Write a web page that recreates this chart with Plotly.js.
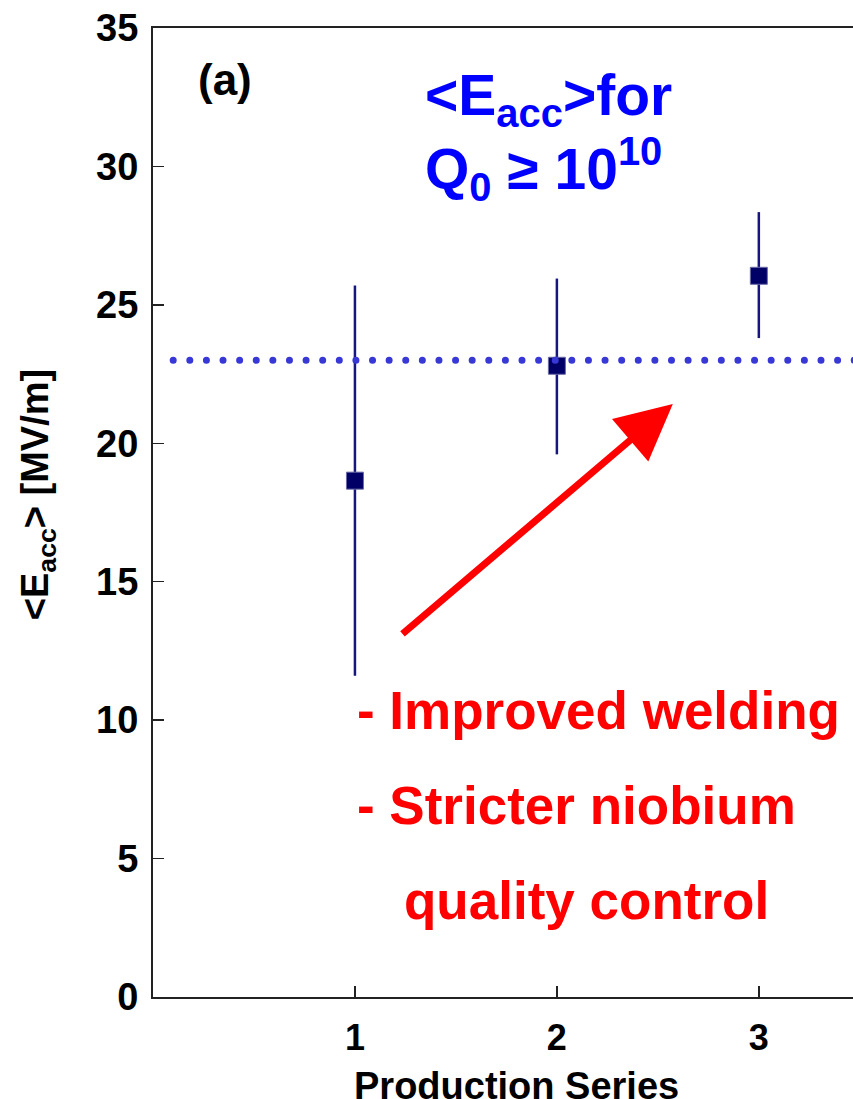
<!DOCTYPE html>
<html>
<head>
<meta charset="utf-8">
<script src="https://cdn.plot.ly/plotly-3.0.1.min.js"></script>
<style>
html, body { margin: 0; padding: 0; overflow: hidden; background: #fff; }
#chart { width: 880px; height: 1099px; }
</style>
</head>
<body>
<div id="chart"></div>
<script>
// Data
const productionSeries = [1, 2, 3];
const eaccMean = [18.65, 22.8, 26.05];
const eaccUpper = [25.7, 25.95, 28.35];
const eaccLower = [11.6, 19.6, 23.8];
const specLine = 23.0;
const xTickVals = [1, 2, 3];
const xTickText = ['1', '2', '3'];

const errPlus = eaccMean.map((m, i) => eaccUpper[i] - m);
const errMinus = eaccMean.map((m, i) => m - eaccLower[i]);

const FONT = 'Liberation Sans, Arial, Helvetica, sans-serif';

const trace = {
  x: productionSeries,
  y: eaccMean,
  type: 'scatter',
  mode: 'markers',
  marker: { symbol: 'square', size: 17, color: '#000066', line: { width: 1, color: '#6a6aa8' } },
  error_y: {
    type: 'data', symmetric: false,
    array: errPlus, arrayminus: errMinus,
    color: '#16167e', thickness: 2.5, width: 0
  },
  showlegend: false,
  hoverinfo: 'x+y'
};

const layout = {
  width: 880, height: 1099,
  margin: { l: 153, r: 0, t: 28, b: 102 },
  paper_bgcolor: '#ffffff',
  plot_bgcolor: '#ffffff',
  font: { family: FONT, color: '#000' },
  xaxis: {
    range: [0, 3.6],
    tickvals: xTickVals, ticktext: xTickText,
    ticks: 'inside', ticklen: 11, tickwidth: 1.5, tickcolor: '#222',
    showline: true, linecolor: '#222', linewidth: 2, mirror: true,
    showgrid: false, zeroline: false,
    tickfont: { family: FONT, size: 36, weight: 'bold', color: '#000' },
    ticklabelstandoff: 8
  },
  yaxis: {
    range: [0, 35],
    tick0: 0, dtick: 5,
    ticks: 'inside', ticklen: 11, tickwidth: 1.5, tickcolor: '#222',
    showline: true, linecolor: '#222', linewidth: 2, mirror: true,
    showgrid: false, zeroline: false,
    tickfont: { family: FONT, size: 38, weight: 'bold', color: '#000' },
    ticklabelstandoff: 5
  },
  shapes: [{
    type: 'line', xref: 'x', yref: 'y',
    x0: 0.1, x1: 3.6, y0: specLine, y1: specLine,
    line: { color: '#3838d6', width: 7, dash: '7px,9.6px' }
  }],
  annotations: [
    {
      xref: 'paper', yref: 'paper', x: 0.5, y: -0.092, xanchor: 'center', yanchor: 'middle',
      text: 'Production Series', showarrow: false,
      font: { family: FONT, size: 38, weight: 'bold', color: '#000' }
    },
    {
      xref: 'paper', yref: 'paper', x: -0.158, y: 0.518, xanchor: 'center', yanchor: 'middle',
      textangle: -90,
      text: '&lt;E<sub>acc</sub>&gt; [MV/m]', showarrow: false,
      font: { family: FONT, size: 38, weight: 'bold', color: '#000' }
    },
    {
      xref: 'x', yref: 'y', x: 0.215, y: 33.15, xanchor: 'left', yanchor: 'middle',
      text: '(a)', showarrow: false,
      font: { family: FONT, size: 44, weight: 'bold', color: '#000' }
    },
    {
      xref: 'x', yref: 'y', x: 1.335, y: 31.1, xanchor: 'left', yanchor: 'middle', align: 'left',
      text: '&lt;E<sub>acc</sub>&gt;for<br>Q<sub>0</sub> ≥ 10<sup>10</sup>', showarrow: false,
      font: { family: FONT, size: 57, weight: 'bold', color: '#0000ff' }
    },
    {
      xref: 'x', yref: 'y', x: 2.574, y: 21.42, ax: 1.228, ay: 13.07, axref: 'x', ayref: 'y',
      text: '', showarrow: true, arrowhead: 2, arrowsize: 1.6, arrowwidth: 7, arrowcolor: '#ff0000', standoff: 0
    },
    {
      xref: 'x', yref: 'y', x: 1.0, y: 10.36, xanchor: 'left', yanchor: 'middle',
      text: '- Improved welding', showarrow: false,
      font: { family: FONT, size: 53, weight: 'bold', color: '#ff0000' }
    },
    {
      xref: 'x', yref: 'y', x: 1.0, y: 6.93, xanchor: 'left', yanchor: 'middle',
      text: '- Stricter niobium', showarrow: false,
      font: { family: FONT, size: 53, weight: 'bold', color: '#ff0000' }
    },
    {
      xref: 'x', yref: 'y', x: 1.235, y: 3.47, xanchor: 'left', yanchor: 'middle',
      text: 'quality control', showarrow: false,
      font: { family: FONT, size: 53, weight: 'bold', color: '#ff0000' }
    }
  ]
};

Plotly.newPlot('chart', [trace], layout, { displayModeBar: false, staticPlot: true }).then(function (gd) {
  // make the reference line round-dotted
  gd.querySelectorAll('.shapelayer path').forEach(function (p) {
    p.style.strokeLinecap = 'round';
    p.style.strokeDasharray = '0.01px,16.6px';
  });
});
</script>
</body>
</html>
